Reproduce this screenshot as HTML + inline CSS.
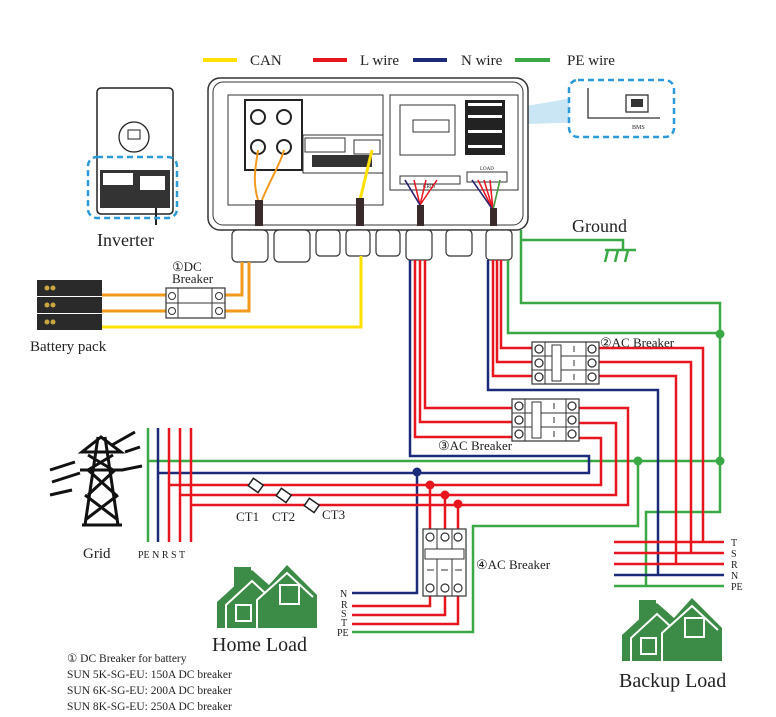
<!DOCTYPE html>
<html><head><meta charset="utf-8"><style>
html,body{margin:0;padding:0;background:#fff}
svg{display:block}
text{font-family:"Liberation Serif",serif;fill:#222}
</style></head><body>
<svg width="776" height="717" viewBox="0 0 776 717" xmlns="http://www.w3.org/2000/svg">
<defs>
<g id="house">
<rect x="17" y="2" width="17" height="24" fill="#3c8b47"/>
<path d="M0 37 L35 5 L52 20 L70 0 L100 30 L100 63 L0 63 Z" fill="#3c8b47"/>
<path d="M9 63 V40 L35 16 L48 28 M40 63 V35 L70 8 L96 32" fill="none" stroke="#fff" stroke-width="2"/>
<rect x="19" y="40" width="15" height="16" fill="none" stroke="#fff" stroke-width="2"/>
<rect x="63" y="20" width="19" height="19" fill="none" stroke="#fff" stroke-width="2"/>
</g>
<g id="brkH">
<rect x="0" y="0" width="67" height="42" fill="#fff" stroke="#333" stroke-width="1.2"/>
<line x1="13" y1="0" x2="13" y2="42" stroke="#333"/><line x1="54" y1="0" x2="54" y2="42" stroke="#333"/>
<line x1="0" y1="14" x2="67" y2="14" stroke="#333"/><line x1="0" y1="28" x2="67" y2="28" stroke="#333"/>
<rect x="20" y="3" width="9" height="36" fill="#fff" stroke="#333"/>
<circle cx="7" cy="7" r="4" fill="none" stroke="#333" stroke-width="1.3"/><circle cx="7" cy="21" r="4" fill="none" stroke="#333" stroke-width="1.3"/><circle cx="7" cy="35" r="4" fill="none" stroke="#333" stroke-width="1.3"/>
<circle cx="60" cy="7" r="4" fill="none" stroke="#333" stroke-width="1.3"/><circle cx="60" cy="21" r="4" fill="none" stroke="#333" stroke-width="1.3"/><circle cx="60" cy="35" r="4" fill="none" stroke="#333" stroke-width="1.3"/>
<line x1="42" y1="4" x2="42" y2="10" stroke="#333"/><line x1="42" y1="18" x2="42" y2="24" stroke="#333"/><line x1="42" y1="32" x2="42" y2="38" stroke="#333"/>
</g>
</defs>

<!-- legend -->
<line x1="203" y1="60" x2="237" y2="60" stroke="#ffe000" stroke-width="4"/><text x="250" y="65" font-size="15">CAN</text>
<line x1="313" y1="60" x2="347" y2="60" stroke="#e8141e" stroke-width="4"/><text x="360" y="65" font-size="15">L wire</text>
<line x1="413" y1="60" x2="447" y2="60" stroke="#1c2a7a" stroke-width="4"/><text x="461" y="65" font-size="15">N wire</text>
<line x1="515" y1="60" x2="550" y2="60" stroke="#3aa845" stroke-width="4"/><text x="567" y="65" font-size="15">PE wire</text>

<!-- small inverter icon -->
<rect x="97" y="88" width="76" height="126" rx="4" fill="#fff" stroke="#222" stroke-width="1.5"/>
<circle cx="134" cy="137" r="15" fill="#fff" stroke="#222" stroke-width="1.3"/>
<rect x="128" y="130" width="12" height="9" fill="none" stroke="#222"/>
<rect x="100" y="170" width="70" height="38" fill="#333"/>
<rect x="103" y="173" width="30" height="12" fill="#fff"/><rect x="140" y="176" width="25" height="14" fill="#fff"/>
<line x1="156" y1="208" x2="156" y2="225" stroke="#222" stroke-width="2"/>
<rect x="88" y="157" width="89" height="61" rx="9" fill="none" stroke="#2a9ad8" stroke-width="2.5" stroke-dasharray="6 4"/>
<text x="97" y="246" font-size="18">Inverter</text>

<!-- BMS -->
<path d="M398 128 L590 95 L590 122 Z" fill="#bde0f2" opacity="0.8"/>
<rect x="569" y="80" width="105" height="57" rx="9" fill="#fff" stroke="#2a9ad8" stroke-width="2.5" stroke-dasharray="6 4"/>
<path d="M588 88 V118 H660" fill="none" stroke="#333" stroke-width="1.3"/>
<rect x="626" y="95" width="22" height="17" fill="none" stroke="#333" stroke-width="1.3"/>
<rect x="631" y="99" width="12" height="8" fill="#333"/>
<text x="632" y="129" font-size="6">BMS</text>

<!-- main inverter -->
<rect x="208" y="78" width="320" height="152" rx="12" fill="#fff" stroke="#333" stroke-width="1.5"/>
<rect x="213" y="82" width="310" height="143" rx="10" fill="none" stroke="#333" stroke-width="1"/>
<rect x="228" y="95" width="155" height="110" fill="none" stroke="#333"/>
<rect x="390" y="95" width="128" height="95" fill="none" stroke="#333"/>
<rect x="245" y="100" width="57" height="70" fill="#fff" stroke="#222" stroke-width="2"/>
<circle cx="258" cy="117" r="7" fill="none" stroke="#222" stroke-width="2"/><circle cx="284" cy="117" r="7" fill="none" stroke="#222" stroke-width="2"/>
<circle cx="258" cy="147" r="7" fill="none" stroke="#222" stroke-width="2"/><circle cx="284" cy="147" r="7" fill="none" stroke="#222" stroke-width="2"/>
<rect x="303" y="135" width="80" height="38" fill="none" stroke="#333"/>
<rect x="312" y="155" width="60" height="12" fill="#333"/>
<rect x="305" y="138" width="40" height="14" fill="none" stroke="#333"/>
<rect x="354" y="140" width="26" height="14" fill="none" stroke="#333"/>
<rect x="400" y="105" width="55" height="50" fill="none" stroke="#333"/>
<rect x="413" y="120" width="36" height="12" fill="none" stroke="#333"/>
<rect x="465" y="100" width="40" height="55" fill="#222"/>
<g fill="#fff"><rect x="468" y="103" width="34" height="3"/><rect x="468" y="115" width="34" height="3"/><rect x="468" y="130" width="34" height="3"/><rect x="468" y="145" width="34" height="3"/></g>
<rect x="400" y="176" width="60" height="8" fill="none" stroke="#333"/>
<rect x="467" y="172" width="40" height="10" fill="none" stroke="#333"/>
<text x="423" y="188" font-size="5">GRID</text><text x="480" y="170" font-size="5">LOAD</text>
<path d="M258 200 C252 180 256 165 258 150" fill="none" stroke="#f39a1e" stroke-width="2"/>
<path d="M262 200 C270 180 280 165 284 150" fill="none" stroke="#f39a1e" stroke-width="2"/>
<path d="M360 200 L372 150" stroke="#ffe000" stroke-width="3"/>
<path d="M420 205 L405 180 M420 205 L414 180 M420 205 L426 180 M420 205 L437 180" fill="none" stroke="#e8141e" stroke-width="1.5"/>
<path d="M420 205 L405 180" stroke="#1c2a7a" stroke-width="1.5"/>
<path d="M493 210 L472 180 M493 210 L478 180 M493 210 L484 180 M493 210 L490 180 M493 210 L500 180" fill="none" stroke="#e8141e" stroke-width="1.5"/>
<path d="M493 210 L472 180" stroke="#1c2a7a" stroke-width="1.5"/><path d="M493 210 L500 180" stroke="#3aa845" stroke-width="1.5"/>
<g fill="#3a2a2a"><rect x="255" y="200" width="8" height="26"/><rect x="356" y="198" width="8" height="28"/><rect x="417" y="205" width="7" height="21"/><rect x="490" y="208" width="7" height="18"/></g>
<g fill="#fff" stroke="#333" stroke-width="1.2">
<rect x="232" y="230" width="36" height="32" rx="5"/><rect x="274" y="230" width="36" height="32" rx="5"/>
<rect x="316" y="230" width="24" height="26" rx="4"/><rect x="346" y="230" width="24" height="26" rx="4"/>
<rect x="376" y="230" width="24" height="26" rx="4"/><rect x="406" y="230" width="26" height="30" rx="4"/>
<rect x="446" y="230" width="26" height="26" rx="4"/><rect x="486" y="230" width="26" height="30" rx="4"/>
</g>

<!-- battery + DC breaker -->
<rect x="37" y="280" width="65" height="16" fill="#2a2a2a"/><rect x="37" y="297" width="65" height="16" fill="#2a2a2a"/><rect x="37" y="314" width="65" height="16" fill="#2a2a2a"/>
<g fill="#c9a640"><circle cx="47" cy="288" r="2.5"/><circle cx="53" cy="288" r="2.5"/><circle cx="47" cy="305" r="2.5"/><circle cx="53" cy="305" r="2.5"/><circle cx="47" cy="322" r="2.5"/><circle cx="53" cy="322" r="2.5"/></g>
<text x="30" y="351" font-size="15">Battery pack</text>
<path d="M102 295 H166 M102 311 H166 M225 295 H242 V262 M225 311 H249 V262" fill="none" stroke="#f39a1e" stroke-width="3"/>
<path d="M102 327 H361 V256" fill="none" stroke="#ffe000" stroke-width="3"/>
<rect x="166" y="288" width="59" height="30" fill="#fff" stroke="#333" stroke-width="1.2"/>
<line x1="178" y1="288" x2="178" y2="318" stroke="#333"/><line x1="212" y1="288" x2="212" y2="318" stroke="#333"/><line x1="166" y1="303" x2="225" y2="303" stroke="#333"/>
<circle cx="172" cy="296" r="3.5" fill="none" stroke="#333"/><circle cx="172" cy="311" r="3.5" fill="none" stroke="#333"/><circle cx="219" cy="296" r="3.5" fill="none" stroke="#333"/><circle cx="219" cy="311" r="3.5" fill="none" stroke="#333"/>
<text x="172" y="271" font-size="13">①DC</text><text x="172" y="283" font-size="13">Breaker</text>

<!-- ground -->
<text x="572" y="232" font-size="18">Ground</text>
<path d="M521 230 V303 H720 V512 H646 V586" fill="none" stroke="#3aa845" stroke-width="2.5"/>
<path d="M521 240 H623 V250 M605 250 H636 M608 250 L605 262 M618 250 L615 262 M628 250 L625 262" fill="none" stroke="#3aa845" stroke-width="2.5"/>
<path d="M508 260 V333 H720" fill="none" stroke="#3aa845" stroke-width="2.5"/>
<circle cx="720" cy="334" r="4.5" fill="#3aa845"/>

<g fill="none" stroke-width="2.5">
<path d="M148 428 V542 M148 461 H720" stroke="#3aa845"/>
<path d="M638 461 V526 H473 V632 H352" stroke="#3aa845"/>
<path d="M158 428 V542 M158 473 H589 V456 H410 V260" stroke="#1c2a7a"/>
<path d="M417 473 V593 H352" stroke="#1c2a7a"/>
<path d="M169 428 V542 M169 485 H601 V438 H579 M191 428 V542 M191 505 H628 V408 H579 M180 428 V542 M180 495 H616 V423 H579" stroke="#e8141e"/>
<path d="M415 260 V437 H512 M420 260 V422 H512 M425 260 V408 H512" stroke="#e8141e"/>
<path d="M430 485 V529 M445 495 V529 M458 504 V529 M430 596 V606 H352 M445 596 V615 H352 M458 596 V624 H352" stroke="#e8141e"/>
<path d="M493 260 V376 H532 M497 260 V362 H532 M501 260 V348 H532" stroke="#e8141e"/>
<path d="M599 348 H703 V542 M599 362 H691 V553 M599 376 H676 V564" stroke="#e8141e"/>
<path d="M488 260 V390 H658 V575" stroke="#1c2a7a"/>
<path d="M614 542 H724 M614 553 H724 M614 564 H724" stroke="#e8141e"/>
<path d="M614 575 H724" stroke="#1c2a7a"/><path d="M614 586 H724" stroke="#3aa845"/>
</g>
<circle cx="720" cy="461" r="4.5" fill="#3aa845"/><circle cx="638" cy="461" r="4.5" fill="#3aa845"/>
<circle cx="417" cy="472" r="4.5" fill="#1c2a7a"/>
<circle cx="430" cy="485" r="4.5" fill="#e8141e"/><circle cx="445" cy="495" r="4.5" fill="#e8141e"/><circle cx="458" cy="504" r="4.5" fill="#e8141e"/>

<use href="#brkH" x="532" y="342"/>
<use href="#brkH" x="512" y="399"/>
<text x="600" y="347" font-size="13">②AC Breaker</text>
<text x="438" y="450" font-size="13">③AC Breaker</text>

<rect x="423" y="529" width="43" height="67" fill="#fff" stroke="#333" stroke-width="1.2"/>
<line x1="437" y1="529" x2="437" y2="596" stroke="#333"/><line x1="452" y1="529" x2="452" y2="596" stroke="#333"/>
<rect x="425" y="549" width="39" height="10" fill="#fff" stroke="#333"/>
<g fill="none" stroke="#333" stroke-width="1.2"><circle cx="430" cy="537" r="4"/><circle cx="445" cy="537" r="4"/><circle cx="458" cy="537" r="4"/><circle cx="430" cy="588" r="4"/><circle cx="445" cy="588" r="4"/><circle cx="458" cy="588" r="4"/></g>
<g stroke="#333"><line x1="427" y1="570" x2="434" y2="570"/><line x1="441" y1="570" x2="448" y2="570"/><line x1="455" y1="570" x2="462" y2="570"/></g>
<text x="476" y="569" font-size="13">④AC Breaker</text>

<g fill="#fff" stroke="#222" stroke-width="1.5">
<rect x="250" y="481" width="12" height="9" transform="rotate(35 256 485)"/>
<rect x="278" y="491" width="12" height="9" transform="rotate(35 284 495)"/>
<rect x="306" y="501" width="12" height="9" transform="rotate(35 312 505)"/>
</g>
<text x="236" y="521" font-size="13">CT1</text><text x="272" y="521" font-size="13">CT2</text><text x="322" y="519" font-size="13">CT3</text>

<g fill="none" stroke="#111" stroke-width="3">
<path d="M98 437 L85 525 M105 437 L118 525 M82 525 H122"/>
<path d="M82 452 H121 L101 437 Z M80 470 H123 M88 455 L113 470 M113 455 L88 470 M88 470 L116 495 M115 470 L88 495 M85 495 L118 520 M118 495 L85 520"/>
<path d="M50 470 L75 462 M52 482 L80 473 M50 495 L72 490 M112 445 L135 432 M125 452 L140 447 M122 470 L142 466"/>
</g>
<text x="83" y="558" font-size="15">Grid</text>
<text x="138" y="558" font-size="10">PE N R S T</text>

<g font-size="10"><text x="340" y="597">N</text><text x="341" y="608">R</text><text x="341" y="617">S</text><text x="341" y="626">T</text><text x="337" y="636">PE</text></g>
<g font-size="10"><text x="731" y="546">T</text><text x="731" y="557">S</text><text x="731" y="568">R</text><text x="731" y="579">N</text><text x="731" y="590">PE</text></g>

<use href="#house" x="217" y="565"/>
<use href="#house" x="622" y="598"/>
<text x="212" y="651" font-size="20">Home Load</text>
<text x="619" y="687" font-size="20">Backup Load</text>

<g font-size="11.5"><text x="67" y="662">① DC Breaker for battery</text>
<text x="67" y="678">SUN 5K-SG-EU: 150A DC breaker</text>
<text x="67" y="694">SUN 6K-SG-EU: 200A DC breaker</text>
<text x="67" y="710">SUN 8K-SG-EU: 250A DC breaker</text></g>
</svg>
</body></html>
